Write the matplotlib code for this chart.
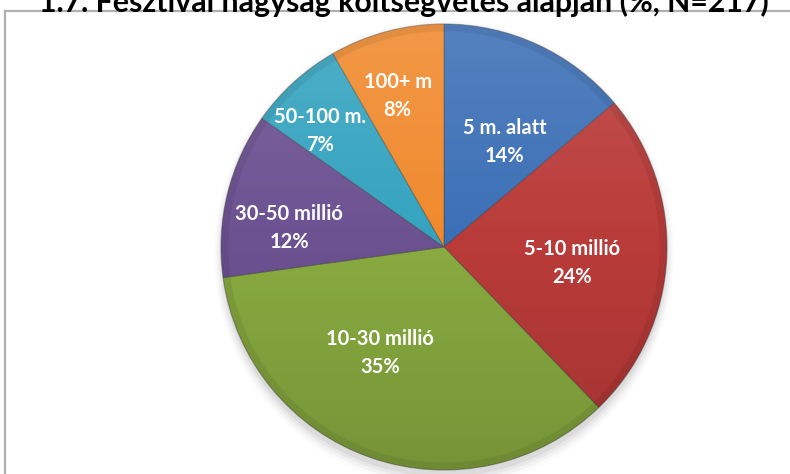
import matplotlib.pyplot as plt
import numpy as np
from matplotlib.lines import Line2D
from matplotlib.patches import Circle, Ellipse

#------------------------
#data (counts, N=217)
categories = ["5 m. alatt", "5-10 millió", "10-30 millió", "30-50 millió", "50-100 m.", "100+ m"]
counts = [30, 52, 76, 26, 15, 18]
colors = ["#3b6fb6", "#b93b39", "#88aa40", "#6c5191", "#34a3bf", "#f0892c"]
title = "1.7. Fesztivál nagyság költségvetés alapján (%, N=217)"

#label placement (angle in degrees, radius as fraction of pie radius)
label_angles = [60, -7, 239, 173, 137, 107]
label_radii = [0.545, 0.58, 0.555, 0.70, 0.76, 0.71]

W, H = 790, 474
fig = plt.figure(figsize=(W / 100, H / 100), dpi=100)

#pie axes: centre (444, 247) px, radius 223 px
cx, cy, R = 444, 247, 223
ax = fig.add_axes([(cx - R * 1.05) / W, (H - cy - R * 1.05) / H, 2.1 * R / W, 2.1 * R / H])
ax.axis("off")

#soft shadow under the pie
for i, a in enumerate([0.05, 0.04, 0.03, 0.02]):
    ax.add_patch(Ellipse((0.0, -0.03), 2.0 + 0.02 * i, 2.0 + 0.03 * i,
                         color="black", alpha=a, lw=0, zorder=0))

wedges, _ = ax.pie(counts, colors=colors, startangle=90, counterclock=False,
                   radius=1.0, wedgeprops=dict(linewidth=0.8))
for w in wedges:
    w.set_zorder(1)
    w.set_edgecolor((0.2, 0.2, 0.2, 0.35))

#vertical shading: lighter top, darker bottom
grad = np.linspace(1, 0, 256)
shade = np.zeros((256, 1, 4))
shade[:, 0, 0] = np.where(grad > 0.5, 1.0, 0.0)
shade[:, 0, 1] = shade[:, 0, 0]
shade[:, 0, 2] = shade[:, 0, 0]
shade[:, 0, 3] = np.abs(grad - 0.5) * 0.26
im = ax.imshow(shade, extent=[-1, 1, -1, 1], aspect="auto", zorder=2,
               interpolation="bilinear")
clip = Circle((0, 0), 1.0, transform=ax.transData)
im.set_clip_path(clip)
ax.set_xlim(-1.05, 1.05)
ax.set_ylim(-1.05, 1.05)

#rim darkening for the bevel look
for k in range(6):
    ax.add_patch(Circle((0, 0), 1.0 - k * 0.006, fill=False,
                        edgecolor="black", alpha=0.05, lw=1.2, zorder=3))

#labels
total = sum(counts)
for name, c, ang, r in zip(categories, counts, label_angles, label_radii):
    t = np.deg2rad(ang)
    ax.text(r * np.cos(t), r * np.sin(t), "%s\n%.0f%%" % (name, 100 * c / total),
            ha="center", va="center", color="white", fontsize=14.5,
            fontweight="bold", family="Lato", linespacing=1.5, zorder=5)

#frame lines (top and left only, rest is cut off)
fig.add_artist(Line2D([5 / W, 1], [1 - 10.5 / H, 1 - 10.5 / H], color="#b0b0b0", lw=1.6))
fig.add_artist(Line2D([5 / W, 5 / W], [0, 1 - 10.5 / H], color="#b0b0b0", lw=1.6))

#title, partly cut by the top edge like in the source
fig.text(0.511, 1 - 12 / H, title, ha="center", va="baseline", zorder=10,
         fontsize=21.8, fontweight="bold", family="Lato", color="black")

fig.savefig("out.png", dpi=100)
